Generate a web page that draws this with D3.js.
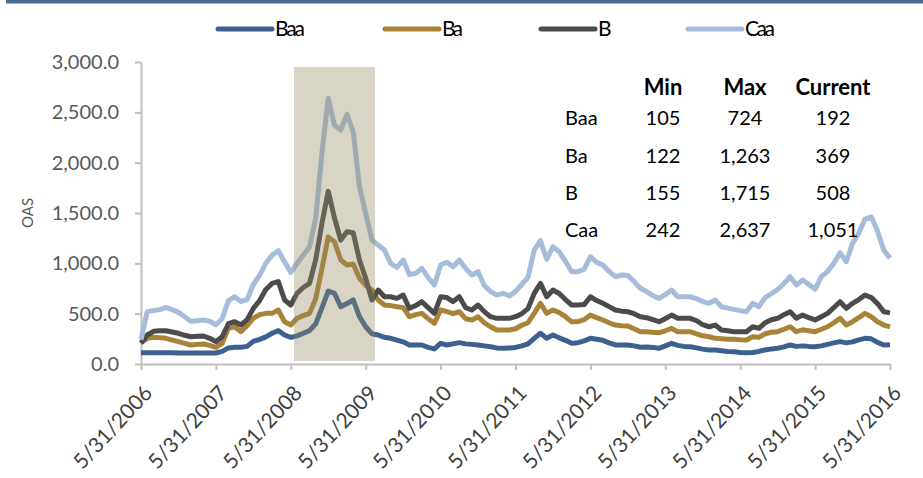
<!DOCTYPE html>
<html>
<head>
<meta charset="utf-8">
<script src="https://cdn.jsdelivr.net/npm/d3@7"></script>
<style>
  html, body { margin: 0; padding: 0; background: #fff; }
  svg { display: block; }
  text { font-family: Lato, "Open Sans", "DejaVu Sans", sans-serif; }
</style>
</head>
<body>
<svg id="chart" width="923" height="478"></svg>
<script>
// ---------------- data ----------------
const seriesNames = ["Baa", "Ba", "B", "Caa"];
const seriesColors = ["#3c6090", "#a98337", "#4b4b4b", "#a5bddb"];

// monthly OAS, 5/31/2006 .. 5/31/2016 (121 points)
const baa = [112,112,112,112,112,112,110,110,109,109,109,109,109,125,160,166,166,175,225,245,
  270,305,331,288,265,280,305,331,400,560,724,702,569,600,636,470,370,300,288,265,
  255,238,220,189,189,189,165,150,205,189,200,212,200,195,189,180,172,160,156,160,
  165,180,200,255,305,255,288,260,235,205,212,230,255,245,235,210,189,189,189,180,
  166,170,165,156,180,205,185,175,172,160,148,139,140,132,125,122,115,112,115,125,
  140,150,156,170,189,175,180,175,172,180,195,210,222,210,220,240,255,250,215,189,192];
const ba = [212,255,265,262,255,238,222,205,189,195,199,185,166,205,354,370,321,380,454,490,
  503,503,536,420,387,454,480,503,650,950,1263,1215,1033,983,993,851,780,735,636,586,
  580,569,560,470,490,503,450,404,536,520,500,519,450,437,470,410,370,338,338,338,
  350,385,410,503,603,503,536,510,470,420,420,440,486,460,437,410,387,380,377,350,
  321,321,315,311,330,354,321,321,321,300,280,271,255,250,245,245,240,238,271,265,
  300,315,321,345,370,321,340,330,321,345,370,410,454,387,420,460,503,470,420,387,369];
const bRating = [205,288,325,331,331,318,305,285,271,275,278,255,222,271,400,420,387,440,553,630,
  740,800,818,636,586,702,760,801,1040,1400,1715,1450,1231,1314,1304,1033,851,636,735,668,
  668,652,685,553,580,619,560,503,668,660,620,668,560,536,586,520,470,454,454,454,
  470,500,550,702,801,668,735,700,640,586,586,590,668,630,603,570,536,525,519,500,
  470,460,440,420,450,486,454,454,454,430,390,370,387,338,330,321,321,321,370,355,
  410,440,454,490,519,454,486,460,437,470,503,560,619,553,603,640,685,660,600,519,508];
const caa = [242,520,530,540,563,540,513,470,425,430,437,425,390,450,630,668,620,640,790,880,
  1000,1080,1125,1016,910,1000,1080,1165,1450,2100,2637,2373,2323,2480,2307,1761,1496,1231,1182,1132,
  1000,960,1033,890,900,950,860,784,983,1010,966,1033,950,884,917,780,720,685,702,675,
  720,790,860,1132,1225,1040,1165,1115,1020,917,917,940,1066,1010,983,920,867,884,880,820,
  752,720,680,652,690,735,668,668,668,650,620,603,636,569,555,543,530,519,603,569,
  660,700,740,800,867,784,834,790,742,867,920,1000,1105,1016,1198,1300,1440,1462,1320,1132,1051];

const tickLabels = ["5/31/2006","5/31/2007","5/31/2008","5/31/2009","5/31/2010","5/31/2011",
  "5/31/2012","5/31/2013","5/31/2014","5/31/2015","5/31/2016"];
const yTicks = [0, 500, 1000, 1500, 2000, 2500, 3000];

// shaded period (month indices, band edges) and its height
const shadeRange = [24.5, 37.5];
const shadeTop = 2950;

// summary table
const tableHeader = ["Min", "Max", "Current"];
const tableMin = ["105", "122", "155", "242"];
const tableMax = ["724", "1,263", "1,715", "2,637"];
const tableCurrent = ["192", "369", "508", "1,051"];

// ---------------- chart ----------------
const svg = d3.select("#chart");
const seriesData = [baa, ba, bRating, caa];

const x = d3.scaleLinear().domain([0, baa.length - 1]).range([141, 890]);
const y = d3.scaleLinear().domain([0, 3000]).range([364, 62]);

// top rule
svg.append("rect").attr("x", 6).attr("y", 0).attr("width", 917).attr("height", 3.5)
  .attr("fill", "#4a6a96");

// y axis
const yAxis = d3.axisLeft(y).tickValues(yTicks).tickSize(6).tickSizeOuter(0)
  .tickFormat(d3.format(",.1f"));
const gy = svg.append("g").attr("transform", "translate(141,0)").call(yAxis);
gy.select(".domain").attr("stroke", "#bfbfbf").attr("stroke-width", 2);
gy.selectAll(".tick line").attr("stroke", "#bfbfbf").attr("stroke-width", 2);
gy.selectAll(".tick text").attr("fill", "#595959").attr("font-size", 20).attr("x", -22);

// x axis
const xAxis = d3.axisBottom(x).tickValues(d3.range(0, baa.length, 12)).tickSize(6).tickSizeOuter(0)
  .tickFormat((d, i) => tickLabels[i]);
const gx = svg.append("g").attr("transform", "translate(0,364)").call(xAxis);
gx.select(".domain").attr("stroke", "#bfbfbf").attr("stroke-width", 2);
gx.selectAll(".tick line").attr("stroke", "#bfbfbf").attr("stroke-width", 2);
gx.selectAll(".tick text")
  .attr("fill", "#404040").attr("font-size", 21)
  .attr("text-anchor", "end")
  .attr("x", 0).attr("y", 0).attr("dy", 0)
  .attr("transform", "translate(12,30) rotate(-47)");

// y axis title
svg.append("text").attr("transform", "translate(33,213) rotate(-90)")
  .attr("text-anchor", "middle").attr("fill", "#595959").attr("font-size", 15).text("OAS");

// lines
const line = d3.line().x((d, i) => x(i)).y(d => y(d));
svg.append("g").selectAll("path").data(seriesData).join("path")
  .attr("d", line)
  .attr("fill", "none")
  .attr("stroke", (d, i) => seriesColors[i])
  .attr("stroke-width", 5)
  .attr("stroke-linejoin", "round");

// shaded period (drawn over lines, semi-transparent)
svg.append("rect")
  .attr("x", x(shadeRange[0])).attr("y", y(shadeTop))
  .attr("width", x(shadeRange[1]) - x(shadeRange[0]))
  .attr("height", y(0) - 3 - y(shadeTop))
  .attr("fill", "rgb(150,139,101)").attr("fill-opacity", 0.37);

// legend
const legendX = [218, 385, 541, 688];
const lg = svg.append("g").selectAll("g").data(seriesNames).join("g")
  .attr("transform", (d, i) => `translate(${legendX[i]},29)`);
lg.append("line").attr("x1", 0).attr("x2", 54).attr("y1", 0).attr("y2", 0)
  .attr("stroke", (d, i) => seriesColors[i]).attr("stroke-width", 5).attr("stroke-linecap", "round");
lg.append("text").attr("x", 57).attr("y", 7).attr("font-size", 21).attr("fill", "#000")
  .attr("textLength", d => d.length === 1 ? 12 : d.length === 2 ? 21 : 30)
  .text(d => d);

// table
const colX = [663, 745, 833];
const rowY = [125, 163, 200, 237];
const tbl = svg.append("g").attr("fill", "#000").attr("font-size", 20);
tbl.selectAll("text.h").data(tableHeader).join("text").attr("class", "h")
  .attr("x", (d, i) => colX[i]).attr("y", 95).attr("text-anchor", "middle")
  .attr("font-weight", "bold").attr("font-size", 22).text(d => d);
tbl.selectAll("text.r").data(seriesNames).join("text").attr("class", "r")
  .attr("x", 565).attr("y", (d, i) => rowY[i]).text(d => d);
[tableMin, tableMax, tableCurrent].forEach((col, c) => {
  tbl.selectAll("text.c" + c).data(col).join("text").attr("class", "c" + c)
    .attr("x", colX[c]).attr("y", (d, i) => rowY[i]).attr("text-anchor", "middle").text(d => d);
});
</script>
</body>
</html>
